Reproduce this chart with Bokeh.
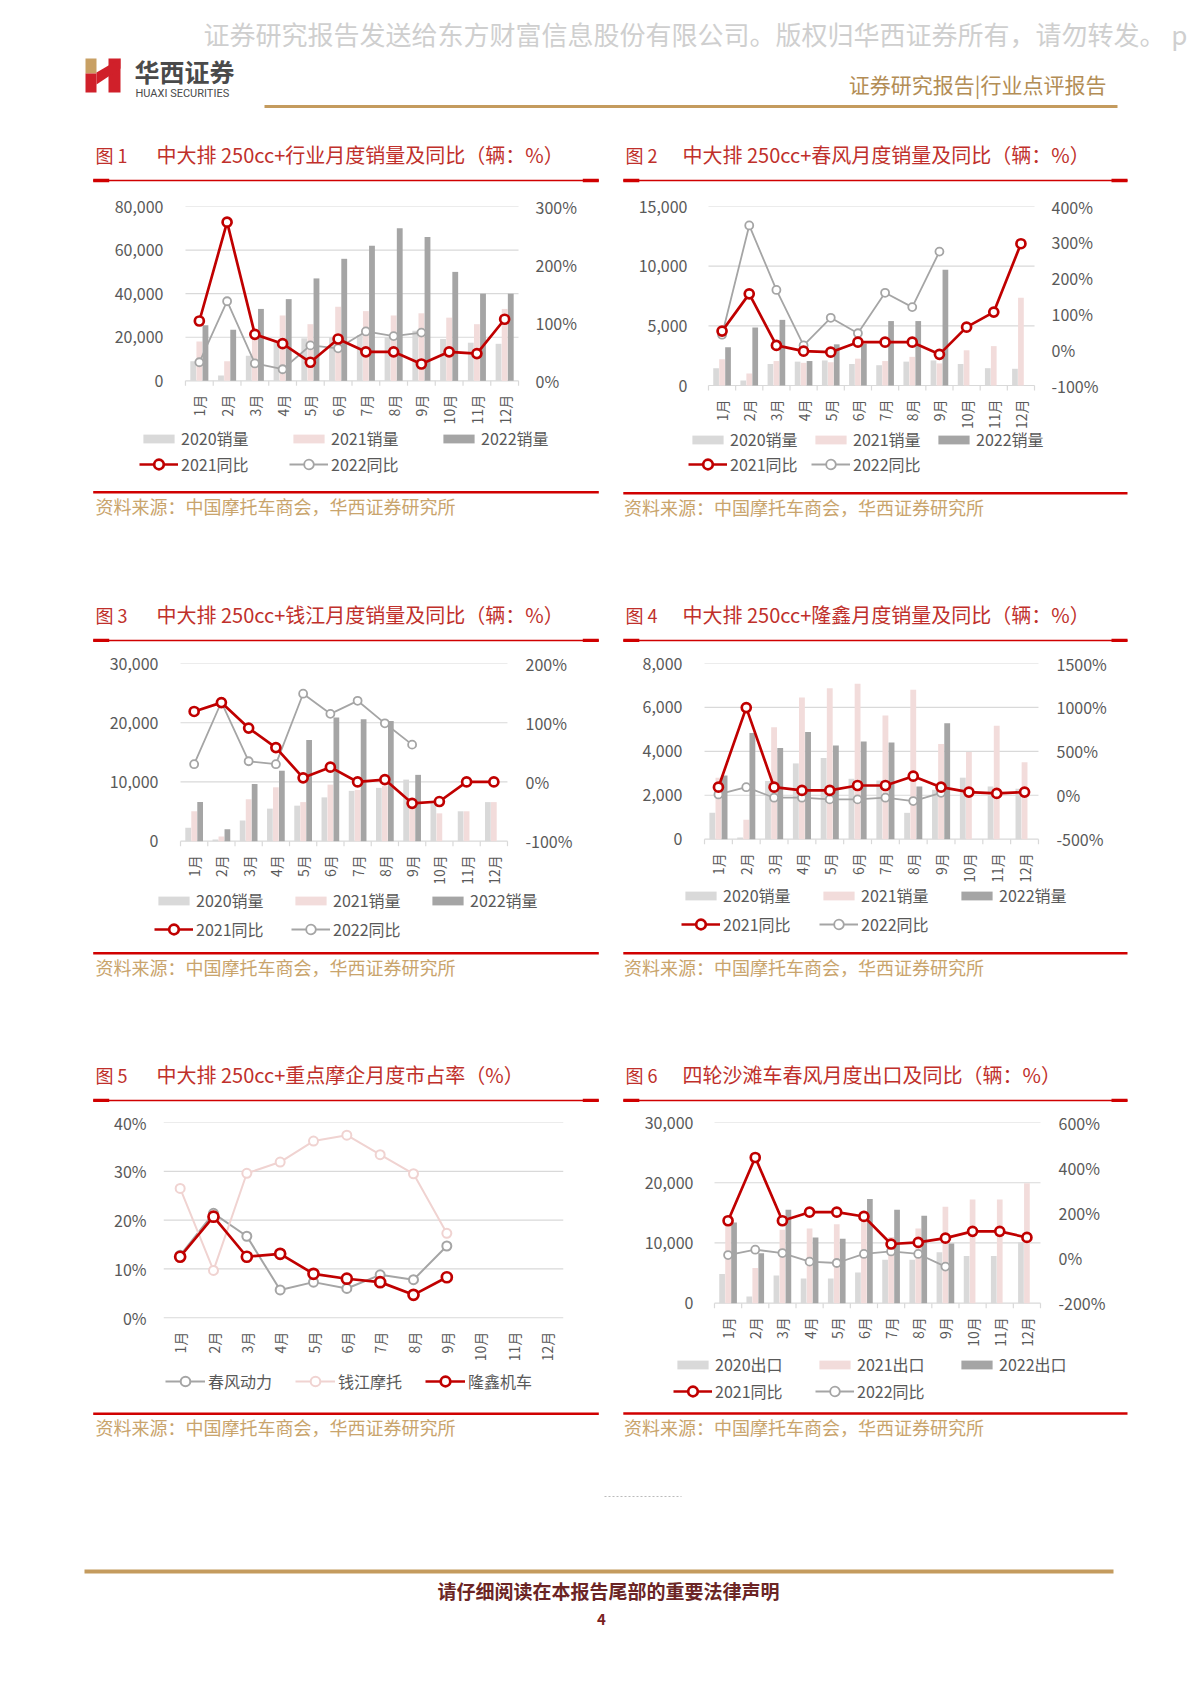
import math
from bokeh.plotting import figure
from bokeh.layouts import column, row
from bokeh.models import (Range1d, FactorRange, LinearAxis, FixedTicker, NumeralTickFormatter,
                          PrintfTickFormatter, Legend, LegendItem, ColumnDataSource)
from bokeh.transform import dodge
from bokeh.embed import file_html
from bokeh.resources import INLINE
from bokeh.core.properties import value

months = ["1月", "2月", "3月", "4月", "5月", "6月", "7月", "8月", "9月", "10月", "11月", "12月"]

# 图1 行业
ind_2020 = [9000, 2400, 11500, 18000, 19500, 20000, 21000, 20000, 23000, 19200, 17500, 17000]
ind_2021 = [18000, 9000, 20500, 30000, 26000, 34000, 32000, 30000, 31000, 29000, 26000, 33000]
ind_2022 = [25500, 23500, 33000, 37500, 47000, 56000, 62000, 70000, 66000, 50000, 40000, 40000]
ind_yoy21 = [103, 273, 80, 64, 32, 72, 50, 50, 29, 50, 47, 106]
ind_yoy22 = [32, 137, 30, 20, 61, 56, 85, 77, 83]

# 图2 春风
cf_2020 = [1450, 420, 1800, 2000, 2100, 1800, 1700, 2000, 2100, 1800, 1450, 1400]
cf_2021 = [2200, 1000, 2050, 1900, 1950, 2250, 2050, 2400, 1850, 2950, 3300, 7350]
cf_2022 = [3200, 4850, 5500, 2050, 3450, 3500, 5400, 5400, 9700]
cf_yoy21 = [52, 156, 12, -4, -7, 21, 21, 21, -13, 63, 105, 296]
cf_yoy22 = [42, 347, 167, 12, 89, 46, 159, 119, 274]

# 图3 钱江
qj_2020 = [2250, 300, 3500, 5500, 6000, 7400, 8500, 9000, 10400, 6800, 5050, 6600]
qj_2021 = [5050, 800, 7100, 9100, 6600, 9550, 8650, 9300, 6600, 4700, 5050, 6600]
qj_2022 = [6600, 2000, 9650, 11900, 17100, 20900, 20600, 20300, 11200]
qj_yoy21 = [119, 134, 91, 58, 7, 25, 0, 4, -36, -33, 0, 0]
qj_yoy22 = [30, 135, 35, 30, 149, 115, 137, 99, 63]

# 图4 隆鑫
lx_2020 = [1200, 80, 2650, 3450, 3700, 2750, 2670, 1200, 2250, 2800, 2400, 2300]
lx_2021 = [2800, 880, 5100, 6450, 6870, 7080, 5630, 6800, 4330, 3970, 5160, 3500]
lx_2022 = [2900, 4830, 4150, 4880, 4270, 4450, 4400, 2400, 5280]
lx_yoy21 = [92, 998, 92, 55, 55, 111, 111, 217, 92, 36, 21, 36]
lx_yoy22 = [9, 92, -28, -28, -47, -47, -28, -66, 28]

# 图5 市占率
share_cf = [12.8, 21.4, 16.7, 5.7, 7.3, 6.0, 8.8, 7.8, 14.7]
share_qj = [26.5, 9.7, 29.6, 31.9, 36.2, 37.4, 33.4, 29.5, 17.3]
share_lx = [12.5, 20.7, 12.5, 13.1, 9.0, 8.0, 7.3, 4.7, 8.3]

# 图6 四轮沙滩车出口
ex_2020 = [4860, 1100, 4600, 4100, 4100, 5100, 7200, 7200, 8450, 7850, 7850, 10100]
ex_2021 = [13000, 5850, 12200, 12400, 13100, 14300, 11000, 12400, 16000, 17200, 17200, 19900]
ex_2022 = [13400, 8300, 15500, 10900, 10700, 17300, 15500, 14500, 9900]
ex_yoy21 = [165, 445, 165, 203, 203, 184, 62, 69, 88, 118, 118, 91]
ex_yoy22 = [13, 37, 22, -16, -22, 18, 29, 18, -38]

CJK = "Noto Sans CJK SC"
TXT = "#595959"
C20 = "#d9d9d9"
C21 = "#f2dcdb"
C22 = "#a5a5a5"
RED = "#c00000"
GRY = "#a5a5a5"
PNK = "#f0d3d1"
GRID = "#d9d9d9"
TITLE_RED = "#c0302b"
LINE_RED = "#d00000"
GOLD = "#c49b5e"
SRC = "#c9a46c"

PX0, PW = 0, 1200


def band(top, bottom):
    p = figure(width=PW, height=bottom - top, x_range=Range1d(PX0, PX0 + PW),
               y_range=Range1d(bottom, top), x_axis_location=None, y_axis_location=None,
               title=None, output_backend="svg", toolbar_location=None, min_border=0)
    p.grid.visible = False
    p.outline_line_color = None
    return p


def txt(p, x, y, s, size, color, align="left", style="normal", font=CJK):
    p.text(x=[x], y=[y], text=[s], text_font=value(font), text_font_size=size,
           text_color=color, text_align=align, text_baseline="middle", text_font_style=style)


def seg(p, x0, x1, y, w, color, dash="solid"):
    p.segment(x0=[x0], y0=[y], x1=[x1], y1=[y], line_width=w, line_color=color, line_dash=dash)


def title_band(top, bottom, items):
    p = band(top, bottom)
    for xn, xr, ty, num, rest, xl0, xl1, ly in items:
        txt(p, xn, ty, num, "18px", TITLE_RED)
        txt(p, xr, ty, rest, "20px", TITLE_RED)
        seg(p, xl0, xl1, ly, 1.5, LINE_RED)
        seg(p, xl0, xl0 + 16, ly, 3.5, LINE_RED)
        seg(p, xl1 - 16, xl1, ly, 3.5, LINE_RED)
    return p


SOURCE = "资料来源：中国摩托车商会，华西证券研究所"


def source_items(p, items):
    for xl0, xl1, ly, sx, sy in items:
        seg(p, xl0, xl1, ly, 2.5, LINE_RED)
        txt(p, sx, sy, SOURCE, "18px", SRC)


def style_axis(ax, standoff):
    ax.axis_line_color = None
    ax.major_tick_line_color = None
    ax.minor_tick_line_color = None
    ax.major_tick_out = 0
    ax.major_tick_in = 0
    ax.major_label_standoff = round(standoff)
    ax.major_label_text_font = CJK
    ax.major_label_text_font_size = "16px"
    ax.major_label_text_color = TXT


def chart(fx, fy, fwid, fhei, frame, pad, ymax, yticks, yfmt, lab_right_x, right=None,
          boundary_ticks=True):
    """frame = (left, top, right, zero-line) of the category area in page pixels.
    The frame is widened by `pad` px per side (so the legend fits in it) and runs to the
    figure bottom (so month labels and legend sit in it)."""
    L, T, R, B0 = frame
    fl = L - pad
    fr = R + pad
    mbl = round(fl - fx)
    mbt = round(T - fy)
    fwt = round(fr - fl)
    top = fy + mbt
    fb = fy + fhei
    k = (fb - B0) / (B0 - top)
    unit = (R - L) / len(months)
    xr = FactorRange(factors=months, range_padding=pad / unit, range_padding_units="absolute")
    p = figure(width=fwid, height=fhei, x_range=xr,
               y_range=Range1d(-ymax * k, ymax), x_axis_location=None, title=None,
               output_backend="svg", toolbar_location=None, min_border_left=mbl,
               min_border_top=mbt, min_border_right=fwid - mbl - fwt, min_border_bottom=0)
    p.outline_line_color = None
    p.grid.visible = False
    tk = FixedTicker(ticks=yticks)
    ya = p.left[0]
    ya.ticker = tk
    ya.formatter = yfmt
    style_axis(ya, fl - lab_right_x)
    if right is not None:
        (rmin, rmax), rticks, rlab_x = right
        p.extra_y_ranges = {"r": Range1d(rmin - (rmax - rmin) * k, rmax)}
        ra = LinearAxis(y_range_name="r", ticker=FixedTicker(ticks=rticks),
                        formatter=PrintfTickFormatter(format="%d%%"))
        style_axis(ra, rlab_x - fr)
        p.add_layout(ra, "right")
    # horizontal grid lines over the category area only
    n = len(yticks)
    gs = ColumnDataSource(dict(y=yticks, a=[months[0]] * n, b=[months[-1]] * n))
    p.segment(x0=dodge("a", -0.5, range=xr), y0="y", x1=dodge("b", 0.5, range=xr), y1="y",
              source=gs, line_color=GRID, line_width=1.2)
    if boundary_ticks:
        # small category-boundary ticks under the category axis line
        tick_len = 5 * ymax / (B0 - top)
        ts = ColumnDataSource(dict(m=months, z=[0] * len(months), d=[-tick_len] * len(months)))
        p.segment(x0=dodge("m", -0.5, range=xr), y0="z", x1=dodge("m", -0.5, range=xr), y1="d",
                  source=ts, line_color=GRID, line_width=1.2)
        te = ColumnDataSource(dict(m=months[-1:], z=[0], d=[-tick_len]))
        p.segment(x0=dodge("m", 0.5, range=xr), y0="z", x1=dodge("m", 0.5, range=xr), y1="d",
                  source=te, line_color=GRID, line_width=1.2)
    # month labels, hung vertically under the zero line
    ms = ColumnDataSource(dict(m=months, z=[0] * len(months)))
    p.text(x="m", y="z", text="m", source=ms, angle=math.pi / 2, text_align="right",
           text_baseline="middle", y_offset=14, text_font=value(CJK), text_font_size="14px",
           text_color=TXT)
    p._fl = fl
    p._fb = fb
    return p


def add_bars(p, v20, v21, v22):
    s = ColumnDataSource(dict(m=months, v20=v20, v21=v21))
    s22 = ColumnDataSource(dict(m=months[:len(v22)], v22=v22))
    r0 = p.vbar(x=dodge("m", -0.22, range=p.x_range), top="v20", width=0.21, source=s,
                fill_color=C20, line_color=None)
    r1 = p.vbar(x=dodge("m", 0.0, range=p.x_range), top="v21", width=0.21, source=s,
                fill_color=C21, line_color=None)
    r2 = p.vbar(x=dodge("m", 0.22, range=p.x_range), top="v22", width=0.21, source=s22,
                fill_color=C22, line_color=None)
    return r0, r1, r2


def add_line(p, vals, color, lw, size, rname="r"):
    src = ColumnDataSource(dict(m=months[:len(vals)], v=vals))
    l = p.line(x="m", y="v", source=src, line_color=color, line_width=lw, y_range_name=rname)
    s = p.scatter(x="m", y="v", source=src, marker="circle", size=size, fill_color="white",
                  line_color=color, line_width=lw, y_range_name=rname)
    return [l, s]


def add_legends(p, lx, rows, pitch, items_rows, gws):
    for (rowy, its), (gw, gh, lh) in zip(zip(rows, items_rows), gws):
        top = rowy - lh / 2
        leg = Legend(items=[LegendItem(label=lab, renderers=rs) for lab, rs in its],
                     orientation="horizontal",
                     location=(round(lx - round(p._fl)), round(p._fb - top - lh)),
                     glyph_width=gw, glyph_height=gh, label_standoff=3,
                     label_width=round(pitch - gw - 3), label_height=lh, spacing=0,
                     padding=0, margin=0, border_line_color=None, background_fill_alpha=0,
                     label_text_font=CJK, label_text_font_size="16px", label_text_color=TXT)
        p.add_layout(leg, "center")


def bar_line_chart(fx, fy, fwid, frame, pad, ymax, yticks, lab_l, rlim, rticks, lab_r,
                   v20, v21, v22, y21, y22, lx, rows, pitch, lab_bar):
    p = chart(fx, fy, fwid, 305, frame, pad, ymax, yticks, NumeralTickFormatter(format="0,0"),
              lab_l, right=(rlim, rticks, lab_r))
    r0, r1, r2 = add_bars(p, v20, v21, v22)
    g = add_line(p, y22, GRY, 1.8, 8)
    r = add_line(p, y21, RED, 2.7, 9)
    add_legends(p, lx, rows, pitch,
                [[("2020" + lab_bar, [r0]), ("2021" + lab_bar, [r1]), ("2022" + lab_bar, [r2])],
                 [("2021同比", r), ("2022同比", g)]],
                [(39, 11, 20), (39, 24, 24)])
    return p


# ---------------- header ----------------
hdr = band(0, 128)
txt(hdr, 203, 33, "证券研究报告发送给东方财富信息股份有限公司。版权归华西证券所有，请勿转发。 p",
    "26px", "#cfcfcf")
hdr.quad(left=[85], right=[96], top=[58], bottom=[73], fill_color="#c8a064", line_color=None)
hdr.quad(left=[85], right=[96], top=[73], bottom=[92], fill_color="#d0202a", line_color=None)
hdr.quad(left=[108], right=[120], top=[58], bottom=[92], fill_color="#d0202a", line_color=None)
hdr.patch(x=[96, 120, 120, 96], y=[72, 58, 68, 84], fill_color="#d0202a", line_color=None)
txt(hdr, 134, 70, "华西证券", "25px", "#4a4a4a", style="bold")
txt(hdr, 135, 93, "HUAXI SECURITIES", "11px", "#4a4a4a", font="Roboto")
txt(hdr, 1106, 83, "证券研究报告|行业点评报告", "21px", "#b38d55", align="right")
seg(hdr, 264, 1117, 106, 3, GOLD)

# ---------------- row 1 ----------------
t1 = title_band(128, 183, [
    (95, 156, 154, "图 1", "中大排 250cc+行业月度销量及同比（辆：%）", 92.7, 598.3, 180),
    (625, 682, 154, "图 2", "中大排 250cc+春风月度销量及同比（辆：%）", 622.8, 1127, 180),
])

c1 = bar_line_chart(0, 183, 606, (185, 198.3, 518.3, 377.3), 46,
                    80000, [0, 20000, 40000, 60000, 80000], 163.3,
                    (0, 300), [0, 100, 200, 300], 535,
                    ind_2020, ind_2021, ind_2022, ind_yoy21, ind_yoy22,
                    139.3, [440, 463.5], 150, "销量")
c2 = bar_line_chart(606, 183, 594, (708, 206, 1034.3, 385), 22,
                    15000, [0, 5000, 10000, 15000], 687,
                    (-100, 400), [-100, 0, 100, 200, 300, 400], 1051,
                    cf_2020, cf_2021, cf_2022, cf_yoy21, cf_yoy22,
                    688.4, [440.7, 464.3], 123, "销量")

s1 = band(488, 587)
source_items(s1, [(92.7, 598.3, 491.7, 95, 505), (622.8, 1127, 492.7, 623.5, 506)])

# ---------------- row 2 ----------------
t2 = title_band(587, 642, [
    (95, 156, 614, "图 3", "中大排 250cc+钱江月度销量及同比（辆：%）", 92.7, 598.3, 640),
    (625, 682, 614, "图 4", "中大排 250cc+隆鑫月度销量及同比（辆：%）", 622.8, 1127, 640),
])
c3 = bar_line_chart(0, 642, 606, (180, 662.7, 506.7, 840.7), 32,
                    30000, [0, 10000, 20000, 30000], 158.3,
                    (-100, 200), [-100, 0, 100, 200], 524.3,
                    qj_2020, qj_2021, qj_2022, qj_yoy21, qj_yoy22,
                    154, [901.7, 929.3], 136.7, "销量")
c4 = bar_line_chart(606, 642, 594, (704, 661.7, 1037.7, 838.3), 32,
                    8000, [0, 2000, 4000, 6000, 8000], 682,
                    (-500, 1500), [-500, 0, 500, 1000, 1500], 1055.6,
                    lx_2020, lx_2021, lx_2022, lx_yoy21, lx_yoy22,
                    681, [897.3, 924.3], 138.5, "销量")

s2 = band(947, 1047)
source_items(s2, [(92.7, 598.3, 952.7, 95, 966), (622.8, 1127, 952.7, 623.5, 966)])

# ---------------- row 3 ----------------
t3 = title_band(1047, 1102, [
    (95, 156, 1074, "图 5", "中大排 250cc+重点摩企月度市占率（%）", 92.7, 598.3, 1100),
    (625, 682, 1074, "图 6", "四轮沙滩车春风月度出口及同比（辆：%）", 622.8, 1127, 1100),
])
c5 = chart(0, 1102, 606, 305, (162.7, 1116.7, 562.7, 1315.7), 0, 40, [0, 10, 20, 30, 40],
           PrintfTickFormatter(format="%d%%"), 146, right=None, boundary_ticks=False)
l_cf = add_line(c5, share_cf, GRY, 2.0, 9, rname="default")
l_qj = add_line(c5, share_qj, PNK, 2.0, 9, rname="default")
l_lx = add_line(c5, share_lx, RED, 2.7, 10, rname="default")
add_legends(c5, 165, [1381], 130,
            [[("春风动力", l_cf), ("钱江摩托", l_qj), ("隆鑫机车", l_lx)]], [(40, 24, 24)])

c6 = bar_line_chart(606, 1102, 594, (714, 1121.7, 1040, 1302.7), 42,
                    30000, [0, 10000, 20000, 30000], 692.8,
                    (-200, 600), [-200, 0, 200, 400, 600], 1058,
                    ex_2020, ex_2021, ex_2022, ex_yoy21, ex_yoy22,
                    673, [1366, 1390.7], 142.5, "出口")

ft = band(1407, 1695)
source_items(ft, [(92.7, 598.3, 1413.3, 95, 1426), (622.8, 1127, 1413, 623.5, 1426)])
seg(ft, 604, 681, 1496, 1, "#bbbbbb", dash="2 2")
seg(ft, 84, 1113, 1571, 4, GOLD)
txt(ft, 608, 1590, "请仔细阅读在本报告尾部的重要法律声明", "19px", "#6b2525", align="center", style="bold")
txt(ft, 601, 1619, "4", "15px", "#7b1f1f", align="center", style="bold")

layout = column(hdr, t1, row(c1, c2), s1, t2, row(c3, c4), s2, t3, row(c5, c6), ft)

with open("out.html", "w") as f:
    f.write(file_html(layout, INLINE, "华西证券"))
